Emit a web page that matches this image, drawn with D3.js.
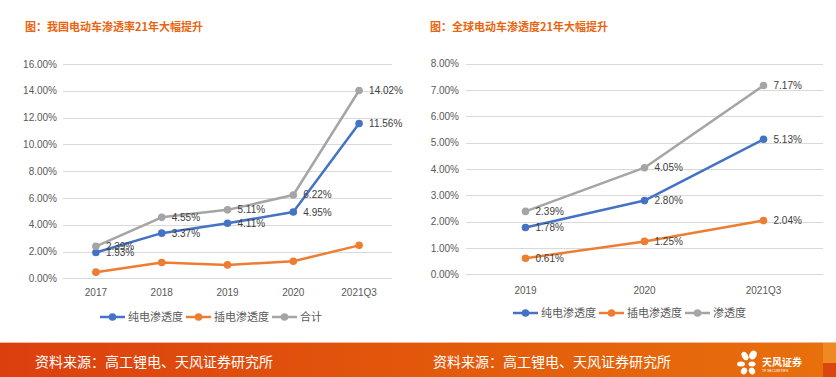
<!DOCTYPE html>
<html><head><meta charset="utf-8">
<script src="https://cdn.jsdelivr.net/npm/d3@7/dist/d3.min.js"></script>
<style>
html,body{margin:0;padding:0;background:#fff;}
svg{display:block;}
</style></head>
<body>
<svg id="c" width="836" height="377"></svg>
<script>
// ---------- data ----------
const leftTitle = "图：我国电动车渗透率21年大幅提升";
const leftCategories = ["2017","2018","2019","2020","2021Q3"];
const leftBEV  = [1.93, 3.37, 4.11, 4.95, 11.56];
const leftPHEV = [0.46, 1.18, 1.00, 1.27, 2.46];
const leftTotal = [2.39, 4.55, 5.11, 6.22, 14.02];
const leftTicks = [0,2,4,6,8,10,12,14,16];
const leftSeriesNames = ["纯电渗透度","插电渗透度","合计"];

const rightTitle = "图：全球电动车渗透度21年大幅提升";
const rightCategories = ["2019","2020","2021Q3"];
const rightBEV  = [1.78, 2.80, 5.13];
const rightPHEV = [0.61, 1.25, 2.04];
const rightTotal = [2.39, 4.05, 7.17];
const rightTicks = [0,1,2,3,4,5,6,7,8];
const rightSeriesNames = ["纯电渗透度","插电渗透度","渗透度"];

const sourceText = "资料来源：高工锂电、天风证券研究所";
const colors = ["#4472C4","#ED7D31","#A5A5A5"];

const svg = d3.select("#c");
const CJK = "'Noto Sans CJK SC','Microsoft YaHei',sans-serif";
const LAT = "'Liberation Sans',Arial,sans-serif";

function drawChart(o){
  const g = svg.append("g");
  g.append("text").attr("x",o.titleX).attr("y",31)
    .attr("font-family",CJK).attr("font-weight","bold").attr("font-size",11)
    .attr("fill","#E8640E").text(o.title);
  const x = d3.scaleBand().domain(o.cats).range([o.x0,o.x1]);
  const y = d3.scaleLinear().domain([0,o.ymax]).range([o.y0,o.y1]);
  // grid
  g.selectAll("line.grid").data(o.ticks).join("line")
    .attr("x1",o.x0).attr("x2",o.x1)
    .attr("y1",d=>Math.round(y(d))+0.5).attr("y2",d=>Math.round(y(d))+0.5)
    .attr("stroke","#D9D9D9").attr("stroke-width",1);
  // y axis labels
  const ya = d3.axisLeft(y).tickValues(o.ticks).tickFormat(d=>d.toFixed(2)+"%").tickSize(0).tickPadding(0);
  const yg = g.append("g").attr("transform",`translate(${o.ylabX},0)`).call(ya);
  yg.select(".domain").remove();
  yg.selectAll("text").attr("font-family",LAT).attr("font-size",10).attr("fill","#595959");
  // x axis labels
  const xa = d3.axisBottom(x).tickSize(0).tickPadding(0);
  const xg = g.append("g").attr("transform",`translate(0,${o.xlabY})`).call(xa);
  xg.select(".domain").remove();
  xg.selectAll("text").attr("font-family",LAT).attr("font-size",10).attr("fill","#595959");
  const cx = d=>x(d)+x.bandwidth()/2;
  // series
  o.series.forEach((s,i)=>{
    const pts = o.cats.map((c,j)=>[cx(c), y(s[j])]);
    g.append("path").attr("d",d3.line()(pts)).attr("fill","none")
      .attr("stroke",colors[i]).attr("stroke-width",2.5).attr("stroke-linejoin","round");
    g.selectAll(null).data(pts).join("circle")
      .attr("cx",d=>d[0]).attr("cy",d=>d[1]).attr("r",3.8).attr("fill",colors[i]);
  });
  // labels
  o.series.forEach((s,i)=>{
    if(!o.labelled[i]) return;
    g.selectAll(null).data(o.cats).join("text")
      .attr("x",c=>cx(c)+10).attr("y",(c,j)=>y(s[j]))
      .attr("dy","0.35em")
      .attr("font-family",LAT).attr("font-size",10).attr("fill","#404040")
      .text((c,j)=>s[j].toFixed(2)+"%");
  });
  // legend
  const lg = g.append("g");
  let lx = o.legX;
  o.names.forEach((n,i)=>{
    lg.append("line").attr("x1",lx).attr("x2",lx+25).attr("y1",o.legY).attr("y2",o.legY)
      .attr("stroke",colors[i]).attr("stroke-width",2.5);
    lg.append("circle").attr("cx",lx+12.5).attr("cy",o.legY).attr("r",3.8).attr("fill",colors[i]);
    const t = lg.append("text").attr("x",lx+28).attr("y",o.legY).attr("dy","0.36em")
      .attr("font-family",CJK).attr("font-size",11).attr("fill","#595959").text(n);
    lx += 28 + t.node().getComputedTextLength() + 3;
  });
}

drawChart({title:leftTitle,titleX:25,cats:leftCategories,series:[leftBEV,leftPHEV,leftTotal],
  labelled:[true,false,true],names:leftSeriesNames,ticks:leftTicks,ymax:16,
  x0:63,x1:392,y0:278.3,y1:64,ylabX:57,xlabY:289,legX:100,legY:317});
drawChart({title:rightTitle,titleX:430,cats:rightCategories,series:[rightBEV,rightPHEV,rightTotal],
  labelled:[true,true,true],names:rightSeriesNames,ticks:rightTicks,ymax:8,
  x0:466,x1:823,y0:274.3,y1:63.7,ylabX:459,xlabY:287,legX:513,legY:313});

// footer
const defs = svg.append("defs");
const grad = defs.append("linearGradient").attr("id","fg").attr("x1","0").attr("x2","1").attr("y1","0").attr("y2","0");
grad.append("stop").attr("offset","0").attr("stop-color","#DC3F0F");
grad.append("stop").attr("offset","0.5").attr("stop-color","#E2580B");
grad.append("stop").attr("offset","1").attr("stop-color","#E8700C");
svg.append("rect").attr("x",0).attr("y",342).attr("width",836).attr("height",35).attr("fill","url(#fg)");
svg.append("rect").attr("x",0).attr("y",342).attr("width",836).attr("height",1).attr("fill","#F5B89A");
svg.append("rect").attr("x",823).attr("y",343).attr("width",13).attr("height",20).attr("fill","#EF8A22");
svg.append("rect").attr("x",823).attr("y",363).attr("width",13).attr("height",14).attr("fill","#D9460F");
[35,433].forEach(x=>{
  svg.append("text").attr("x",x).attr("y",362).attr("dy","0.36em")
    .attr("font-family",CJK).attr("font-size",14).attr("fill","#fff").text(sourceText);
});
// logo
const logo = svg.append("g").attr("fill","#fff");
[[745,356,3,4.5,-30],[753,355,3.5,4.5,30],[741,364,4,2.5,0],[752,364,3.5,2.5,0],[744,371,3,3.5,30],[752,371,3,3.5,-30]]
 .forEach(p=>logo.append("ellipse").attr("cx",p[0]).attr("cy",p[1]).attr("rx",p[2]).attr("ry",p[3])
   .attr("transform",`rotate(${p[4]},${p[0]},${p[1]})`));
logo.append("text").attr("x",762).attr("y",362).attr("dy","0.36em").attr("font-family",CJK)
  .attr("font-weight","bold").attr("font-size",10).text("天风证券");
logo.append("text").attr("x",762).attr("y",371).attr("dy","0.36em").attr("font-family",LAT)
  .attr("font-size",3.5).text("TF SECURITIES");
</script>
</body></html>
